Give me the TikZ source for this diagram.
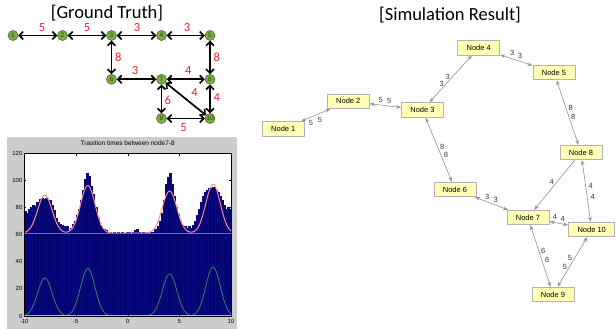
\documentclass[tikz,border=0pt]{standalone}
\usepackage{fontspec}
\setmainfont{Liberation Sans}
\newfontfamily\calib{Carlito}
\usetikzlibrary{arrows.meta}
\definecolor{gtgreen}{RGB}{122,172,72}
\definecolor{gtdark}{RGB}{60,95,35}
\definecolor{gtred}{RGB}{228,38,44}
\definecolor{simfill}{RGB}{255,255,182}
\definecolor{simdraw}{RGB}{178,178,178}
\definecolor{simedge}{RGB}{145,145,145}
\definecolor{simtext}{RGB}{55,55,55}
\definecolor{figgray}{RGB}{204,204,204}
\definecolor{navybar}{RGB}{0,0,112}
\definecolor{navyedge}{RGB}{10,10,125}
\definecolor{fitred}{RGB}{255,140,140}
\definecolor{compgreen}{RGB}{40,140,95}
\definecolor{basegreen}{RGB}{40,170,60}
\definecolor{zerogreen}{RGB}{110,235,110}
\tikzset{
  gtnode/.style={circle, fill=gtgreen, draw=gtdark, line width=0.5pt, minimum size=10pt, inner sep=0pt, text=gtdark!70!black, font=\fontsize{6.5}{6.5}\selectfont},
  gtedge/.style={line width=1.7pt, {Straight Barb[length=3.8pt,width=8pt]}-{Straight Barb[length=3.8pt,width=8pt]}},
  gtlbl/.style={text=gtred, font=\calib\fontsize{12.5}{12.5}\selectfont, inner sep=0pt},
  simnode/.style={draw=simdraw, fill=simfill, line width=0.8pt, inner xsep=9pt, minimum height=14.5pt, inner ysep=0pt, font=\fontsize{7.5}{7.5}\selectfont},
  simboth/.style={draw=simedge, line width=0.6pt, {Stealth[length=5pt,width=3.6pt]}-{Stealth[length=5pt,width=3.6pt]}},
  simone/.style={draw=simedge, line width=0.6pt, -{Stealth[length=5pt,width=3.6pt]}},
  simlbl/.style={text=simtext, font=\fontsize{7.5}{7.5}\selectfont, inner sep=0pt},
  titletext/.style={font=\calib\fontsize{18.5}{18.5}\selectfont, inner sep=0pt},
  ticklbl/.style={font=\fontsize{6}{6}\selectfont, inner sep=0.5pt}
}
\begin{document}
\begin{tikzpicture}[x=1pt,y=-1pt]
\useasboundingbox (0,0) rectangle (616,329);
\fill[white] (0,0) rectangle (616,329);

% ---------- Ground truth ----------
\node[titletext] (gttitle) at (107,13.5) {[Ground Truth]};
\node[gtnode] (g1) at (13,35.5) {1};
\node[gtnode] (g2) at (62.5,35.5) {2};
\node[gtnode] (g3) at (111.5,35.5) {3};
\node[gtnode] (g4) at (161.5,35.5) {4};
\node[gtnode] (g5) at (210,35.5) {5};
\node[gtnode] (g6) at (111.5,79.3) {6};
\node[gtnode] (g7) at (161.5,79.3) {7};
\node[gtnode] (g8) at (210,79.3) {8};
\node[gtnode] (g9) at (161.5,118.5) {9};
\node[gtnode] (g10) at (210,118.5) {10};
\draw[gtedge] (g1) -- (g2);
\draw[gtedge] (g2) -- (g3);
\draw[gtedge] (g3) -- (g4);
\draw[gtedge] (g4) -- (g5);
\draw[gtedge] (g3) -- (g6);
\draw[gtedge] (g5) -- (g8);
\draw[gtedge] (g6) -- (g7);
\draw[gtedge] (g7) -- (g8);
\draw[gtedge] (g7) -- (g10);
\draw[gtedge] (g8) -- (g10);
\draw[gtedge] (g7) -- (g9);
\draw[gtedge] (g9) -- (g10);
\node[gtlbl] at (42,27.5) {5};
\node[gtlbl] at (87,27.5) {5};
\node[gtlbl] at (137,27.5) {3};
\node[gtlbl] at (187,27.5) {3};
\node[gtlbl] at (118.3,57) {8};
\node[gtlbl] at (216.7,57.3) {8};
\node[gtlbl] at (135,70.5) {3};
\node[gtlbl] at (188.3,70.7) {4};
\node[gtlbl] at (194.5,92) {4};
\node[gtlbl] at (216.7,97.3) {4};
\node[gtlbl] at (167.7,100.7) {6};
\node[gtlbl] at (183.5,127.5) {5};

% ---------- Histogram plot ----------
\fill[figgray] (7,137) rectangle (237,329);
\begin{scope}[shift={(127.65,316)}, x=10.35pt, y=1.358pt]
  \fill[white] (-10,0) rectangle (10,120);
  \foreach \h [count=\i from 0] in {77,76,79,80,82,81,84,86,87,86,87,85,85,82,78,72,69,68,67,66,66,63,65,68,70,74,79,85,93,101,105,103,96,90,80,72,67,65,64,63,62,62,61,62,60,62,61,62,61,62,62,61,62,63,64,62,61,62,61,62,61,62,62,64,66,70,76,85,97,102,105,97,88,80,75,70,67,66,65,66,65,67,70,74,79,84,88,91,93,94,94,95,93,91,88,85,82,79,80,79}
    \filldraw[fill=navybar, draw=navyedge, line width=0.15pt] ({-10+0.2*\i},0) rectangle ({-9.8+0.2*\i},\h);
  \draw[fitred, line width=1pt] plot[domain=-10:10, samples=241, smooth] (\x, {61+28*exp(-min(((\x+8)^2)/0.98,9))+35*exp(-min(((\x+3.85)^2)/0.98,9))+31*exp(-min(((\x-4.05)^2)/0.98,9))+36*exp(-min(((\x-8.25)^2)/0.98,9))});
  \draw[basegreen, line width=0.9pt] (-10,61) -- (10,61);
  \draw[compgreen, line width=0.8pt] plot[domain=-10:-5, samples=60, smooth] (\x, {28*exp(-min(((\x+8)^2)/0.98,9))});
  \draw[compgreen, line width=0.8pt] plot[domain=-6.8:-0.9, samples=60, smooth] (\x, {35*exp(-min(((\x+3.85)^2)/0.98,9))});
  \draw[compgreen, line width=0.8pt] plot[domain=1.1:7, samples=60, smooth] (\x, {31*exp(-min(((\x-4.05)^2)/0.98,9))});
  \draw[compgreen, line width=0.8pt] plot[domain=5.3:10, samples=60, smooth] (\x, {36*exp(-min(((\x-8.25)^2)/0.98,9))});
  \draw[zerogreen, line width=1.2pt] (-10,0.4) -- (10,0.4);
  \draw[black, line width=0.4pt] (-10,0) rectangle (10,120);
  \foreach \t in {-10,-5,0,5,10} {
    \draw[line width=0.3pt] (\t,0) -- ++(0,2.2);
    \draw[line width=0.3pt] (\t,120) -- ++(0,-2.2);
    \node[ticklbl, anchor=north] at (\t,-1.6) {\t};
  }
  \foreach \t in {0,20,40,60,80,100,120} {
    \draw[line width=0.3pt] (-10,\t) -- ++(0.22,0);
    \draw[line width=0.3pt] (10,\t) -- ++(-0.22,0);
    \node[ticklbl, anchor=east] at (-10.1,\t) {\t};
  }
  \node[font=\fontsize{6.5}{6.5}\selectfont, inner sep=0pt] (ptitle) at (0,127.4) {Trasition times between node7-8};
\end{scope}

% ---------- Simulation result ----------
\node[titletext] (simtitle) at (450,15) {[Simulation Result]};
\node[simnode] (s1) at (283.3,129) {Node 1};
\node[simnode] (s2) at (348.3,101.2) {Node 2};
\node[simnode] (s3) at (422.5,110) {Node 3};
\node[simnode] (s4) at (478.7,47.8) {Node 4};
\node[simnode] (s5) at (554,72.5) {Node 5};
\node[simnode] (s6) at (455,189.5) {Node 6};
\node[simnode] (s7) at (528,217.5) {Node 7};
\node[simnode] (s8) at (581,152.5) {Node 8};
\node[simnode] (s9) at (553,294.5) {Node 9};
\node[simnode] (s10) at (591.7,229.5) {Node 10};
\draw[simboth] (s1) -- (s2);
\draw[simboth] (s2) -- (s3);
\draw[simboth] (s3) -- (s4);
\draw[simboth] (s4) -- (s5);
\draw[simboth] (s5) -- (s8);
\draw[simboth] (s3) -- (s6);
\draw[simboth] (s6) -- (s7);
\draw[simone] (s8) -- (s7);
\draw[simboth] (s8) -- (s10);
\draw[simboth] (s7) -- (s10);
\draw[simboth] (s7) -- (s9);
\draw[simboth] (s10) -- (s9);
\node[simlbl] at (311,122.7) {5};
\node[simlbl] at (320,120) {5};
\node[simlbl] at (380.7,100) {5};
\node[simlbl] at (389.3,100.7) {5};
\node[simlbl] at (441.7,84) {3};
\node[simlbl] at (447.7,77.3) {3};
\node[simlbl] at (512.3,53.3) {3};
\node[simlbl] at (520,56) {3};
\node[simlbl] at (570.7,108.3) {8};
\node[simlbl] at (573.3,117.3) {8};
\node[simlbl] at (442.3,146.7) {8};
\node[simlbl] at (446,155) {8};
\node[simlbl] at (487.3,196.7) {3};
\node[simlbl] at (495.7,200) {3};
\node[simlbl] at (551.7,181.7) {4};
\node[simlbl] at (590.7,186) {4};
\node[simlbl] at (592.7,196.7) {4};
\node[simlbl] at (555,217.3) {4};
\node[simlbl] at (562.7,218.7) {4};
\node[simlbl] at (543.3,250.7) {6};
\node[simlbl] at (547.3,260) {6};
\node[simlbl] at (570,258.3) {5};
\node[simlbl] at (565,266.7) {5};
\end{tikzpicture}
\end{document}
